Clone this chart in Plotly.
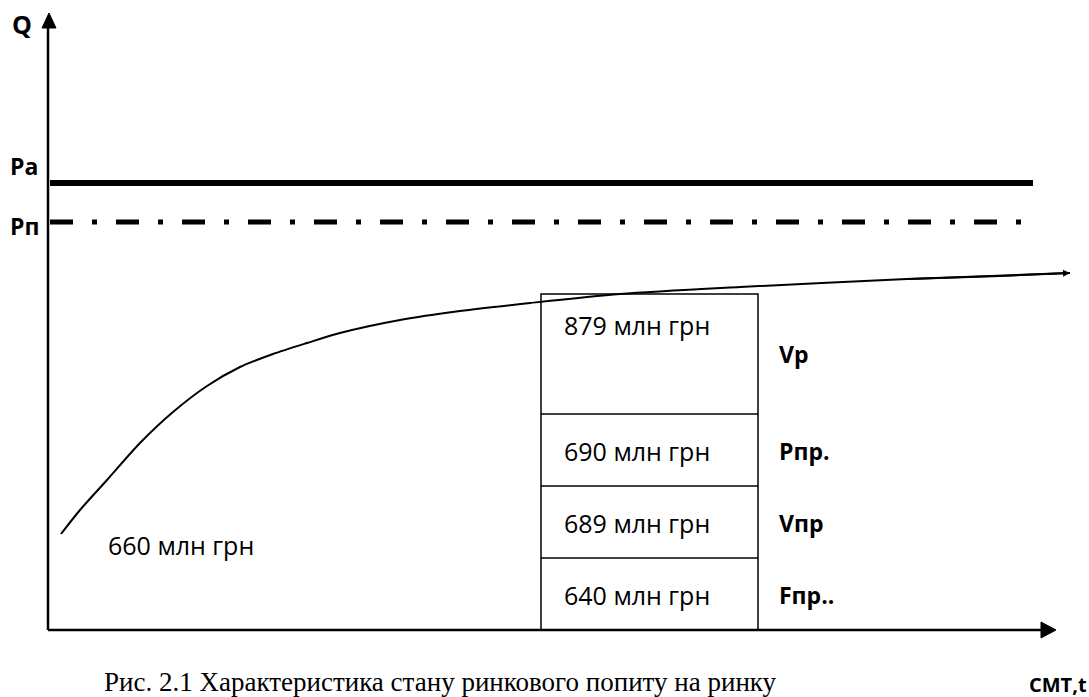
import plotly.graph_objects as go

W, H = 1089, 697

# --- schematic data (drawing units = page pixels, y grows downward) ---
axis_origin = (48, 630)
y_axis_top = 13
x_axis_right = 1056

level_names = ["Pa", "Pп"]
level_values = [183, 222]
level_ends = [1033, 1025]

curve_x = [61, 80, 107, 140, 173, 207, 240, 273, 307, 340, 400, 460, 530, 620, 740, 907, 1000, 1070]
curve_y = [534, 510, 480, 443, 412, 386, 367, 354, 343, 333, 320, 311, 303, 294, 287, 279, 276, 273]
curve_label = "660 млн грн"

box_values = ["879 млн грн", "690 млн грн", "689 млн грн", "640 млн грн"]
box_names = ["Vp", "Pпр.", "Vпр", "Fпр.."]
row_edges = [294, 414, 486, 558, 630]
box_span = (541, 758)

caption = "Рис. 2.1 Характеристика стану ринкового попиту на ринку"
x_title = "CMT,t"
y_title = "Q"

SANS = "Open Sans"
fig = go.Figure()

# smooth curve
fig.add_trace(go.Scatter(x=curve_x, y=curve_y, mode="lines",
                         line=dict(color="black", width=2, shape="spline", smoothing=0.8),
                         hoverinfo="skip", showlegend=False))

shapes = []
ox, oy = axis_origin
# axes
shapes.append(dict(type="line", x0=ox, y0=oy, x1=ox, y1=y_axis_top + 10,
                   line=dict(color="black", width=2.5)))
shapes.append(dict(type="line", x0=ox, y0=oy, x1=x_axis_right - 10, y1=oy,
                   line=dict(color="black", width=2.5)))
# arrow heads
shapes.append(dict(type="path",
                   path=f"M {ox+1} {y_axis_top} L {ox+1-7} {y_axis_top+15} L {ox+1+7} {y_axis_top+15} Z",
                   fillcolor="black", line=dict(color="black", width=1)))
shapes.append(dict(type="path",
                   path=f"M {x_axis_right} {oy} L {x_axis_right-15} {oy-8} L {x_axis_right-15} {oy+8} Z",
                   fillcolor="black", line=dict(color="black", width=1)))
# levels
shapes.append(dict(type="line", x0=ox + 2, y0=level_values[0], x1=level_ends[0], y1=level_values[0],
                   line=dict(color="black", width=6)))
shapes.append(dict(type="line", x0=ox + 2, y0=level_values[1], x1=level_ends[1], y1=level_values[1],
                   line=dict(color="black", width=5, dash="23px,19px,5px,19px")))
# box
bx0, bx1 = box_span
shapes.append(dict(type="rect", x0=bx0, x1=bx1, y0=row_edges[0], y1=row_edges[-1],
                   line=dict(color="black", width=1.5), fillcolor="rgba(0,0,0,0)"))
for e in row_edges[1:-1]:
    shapes.append(dict(type="line", x0=bx0, x1=bx1, y0=e, y1=e,
                       line=dict(color="black", width=1.5)))

ann = []
def txt(x, y, s, size, bold=False, family=SANS, anchor="left"):
    ann.append(dict(x=x, y=y, text=f"<b>{s}</b>" if bold else s, showarrow=False,
                    xanchor=anchor, yanchor="middle",
                    font=dict(family=family, size=size, color="black")))

txt(10, 24, y_title, 25, bold=True)
txt(8, 166, level_names[0], 23, bold=True)
txt(8, 226, level_names[1], 23, bold=True)

# arrow at curve end
ann.append(dict(x=curve_x[-1], y=curve_y[-1], ax=curve_x[-3], ay=curve_y[-3],
                axref="x", ayref="y", xref="x", yref="y", text="", showarrow=True,
                arrowhead=2, arrowsize=0.7, arrowwidth=2, arrowcolor="black"))

row_centers = [row_edges[0] + 31] + [(row_edges[i] + row_edges[i + 1]) / 2 + 1 for i in range(1, 4)]
name_centers = [(row_edges[0] + row_edges[1]) / 2] + row_centers[1:]
for v, c in zip(box_values, row_centers):
    txt(bx0 + 21, c, v, 25)
for n, c in zip(box_names, name_centers):
    txt(bx1 + 19, c, n, 23, bold=True)

txt(106, 545, curve_label, 25)
txt(102, 682, caption, 27, family="Liberation Serif")
txt(1027, 684, x_title, 20, bold=True)

fig.update_layout(
    width=W, height=H, margin=dict(l=0, r=0, t=0, b=0),
    paper_bgcolor="white", plot_bgcolor="white",
    xaxis=dict(range=[0, W], visible=False, fixedrange=True),
    yaxis=dict(range=[H, 0], visible=False, fixedrange=True),
    shapes=shapes, annotations=ann, showlegend=False,
)
fig.write_html("out.html", config={"displayModeBar": False},
               post_script="document.body.style.margin='0px';document.body.style.overflow='hidden';")
